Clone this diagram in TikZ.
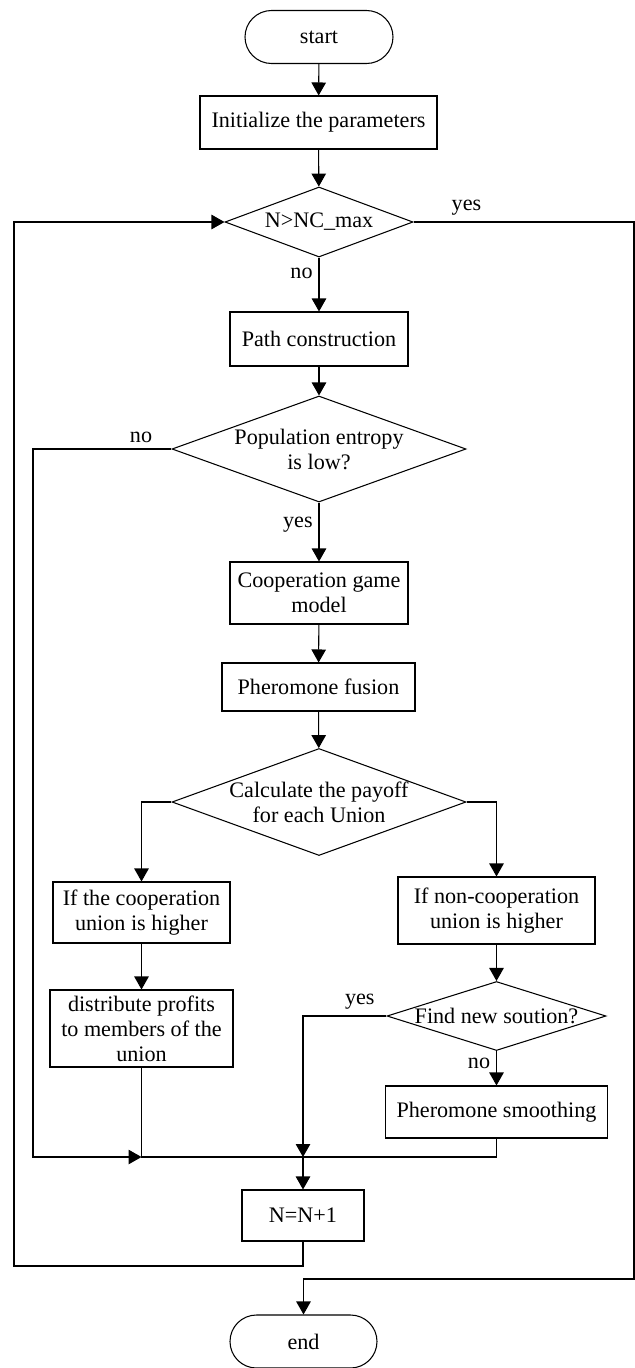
\documentclass[tikz,border=0pt]{standalone}
\usepackage{fontspec}
\setmainfont{Liberation Serif}
\usetikzlibrary{arrows.meta,shapes.geometric,shapes.misc}

\begin{document}
\begin{tikzpicture}[x=1cm,y=1cm,>={Triangle[length=0.26cm,width=0.29cm]},line width=0.6pt,
  font=\fontsize{12.6}{14.2}\selectfont,
  box/.style={draw,rectangle,inner sep=0pt,align=center},
  term/.style={draw,rounded rectangle,inner sep=0pt,minimum height=1.06cm},
  dia/.style={draw,diamond,inner sep=0pt},
  every label/.style={align=center}]
  \useasboundingbox (0,0) rectangle (12.70,-27.36);
  \node[term,minimum width=2.96cm] (start) at (6.38,-0.74) {start};
  \node[box,minimum width=4.74cm,minimum height=1.06cm] (init) at (6.37,-2.45) {Initialize the parameters};
  \node[dia,minimum width=3.76cm,minimum height=1.40cm,label={center:N>NC\_max}] (dec1) at (6.38,-4.44) {};
  \node[box,minimum width=3.56cm,minimum height=1.08cm] (path) at (6.38,-6.78) {Path construction};
  \node[dia,minimum width=5.88cm,minimum height=2.12cm,label={center:Population entropy\\is low?}] (dec2) at (6.38,-8.98) {};
  \node[box,minimum width=3.56cm,minimum height=1.24cm] (coop) at (6.38,-11.86) {Cooperation game\\model};
  \node[box,minimum width=3.86cm,minimum height=0.96cm] (fusion) at (6.37,-13.74) {Pheromone fusion};
  \node[dia,minimum width=5.88cm,minimum height=2.14cm,label={center:Calculate the payoff\\for each Union}] (dec3) at (6.38,-16.04) {};
  \node[box,minimum width=3.54cm,minimum height=1.22cm] (ifcoop) at (2.83,-18.25) {If the cooperation\\union is higher};
  \node[box,minimum width=3.94cm,minimum height=1.34cm] (ifnon) at (9.93,-18.21) {If non-cooperation\\union is higher};
  \node[box,minimum width=3.66cm,minimum height=1.54cm] (distr) at (2.83,-20.57) {distribute profits\\to members of the\\union};
  \node[dia,minimum width=4.38cm,minimum height=1.38cm,label={center:Find new soution?}] (dec4) at (9.93,-20.32) {};
  \node[box,minimum width=4.44cm,minimum height=1.04cm] (smooth) at (9.93,-22.24) {Pheromone smoothing};
  \node[box,minimum width=2.44cm,minimum height=1.02cm] (inc) at (6.06,-24.31) {N=N+1};
  \node[term,minimum width=2.94cm] (stop) at (6.07,-26.83) {end};

  \coordinate (merge) at (6.06,-23.14);
  \coordinate (inl) at (0.66,-8.98);
  \coordinate (outl) at (0.28,-25.32);
  \coordinate (outr) at (12.68,-25.58);

  \draw[->] (start) -- (init);
  \draw[->] (init) -- (dec1);
  \draw[->] (dec1) -- node[left,pos=.3] {no} (path);
  \draw[->] (path) -- (dec2);
  \draw[->] (dec2) -- node[left,pos=.38] {yes} (coop);
  \draw[->] (coop) -- (fusion);
  \draw[->] (fusion) -- (dec3);
  \draw[->] (dec3.west) -| (ifcoop);
  \draw[->] (dec3.east) -| (ifnon);
  \draw[->] (ifcoop) -- (distr);
  \draw[->] (ifnon) -- (dec4);
  \draw[->] (dec4) -- node[left,pos=.37] {no} (smooth);
  \draw[->] (dec4.west) -- node[above,pos=.32] {yes} (dec4.west -| merge) -- (merge);
  \draw[->] (dec2.west) -- node[above,pos=.22] {no} (inl) |- (distr |- merge);
  \draw (distr) |- (merge);
  \draw (smooth) |- (merge);
  \draw[->] (merge) -- (inc);
  \draw[->] (inc) |- (outl) |- (dec1.west);
  \draw[->] (dec1.east) -- node[above,pos=.24] {yes} (dec1.east -| outr) -- (outr) -| (stop);
\end{tikzpicture}
\end{document}
